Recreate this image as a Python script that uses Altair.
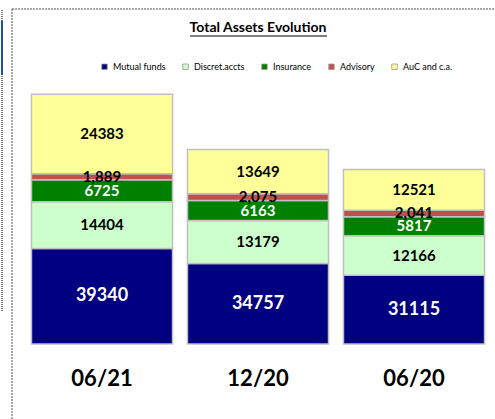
import altair as alt
import pandas as pd

periods = ["06/21", "12/20", "06/20"]
series = ["Mutual funds", "Discret.accts", "Insurance", "Advisory", "AuC and c.a."]
colors = ["#000080", "#CCFFCC", "#008000", "#C0504D", "#FFFF99"]
mutual_funds = [39340, 34757, 31115]
discret_accts = [14404, 13179, 12166]
insurance = [6725, 6163, 5817]
advisory = [1889, 2075, 2041]
auc = [24383, 13649, 12521]
title_text = "Total Assets Evolution"
y_min = 10000
y_max = 97000

rows = []
for si, (s, vals) in enumerate(zip(series, [mutual_funds, discret_accts, insurance, advisory, auc])):
    for p, v in zip(periods, vals):
        rows.append({"period": p, "series": s, "idx": si, "value": v})
df = pd.DataFrame(rows)

FONT = "Lato"

base = alt.Chart(df).transform_stack(
    stack="value", groupby=["period"], sort=[alt.SortField("idx", order="ascending")], as_=["v0", "v1"]
).transform_calculate(
    mid=f"(max(datum.v0, {y_min}) + datum.v1) / 2"
)

xenc = alt.X("period:N", sort=periods, title=None,
             scale=alt.Scale(paddingInner=0.096, paddingOuter=0.048),
             axis=alt.Axis(ticks=False, domain=False, labelFontSize=22, labelFontWeight="bold",
                           labelFont=FONT, labelColor="#000000", labelPadding=24, labelAngle=0))
yscale = alt.Scale(domain=[y_min, y_max], clamp=True, nice=False, zero=False)

bars = base.mark_bar(stroke="#BFBFBF", strokeWidth=1.5).encode(
    x=xenc,
    y=alt.Y("v0:Q", scale=yscale, axis=None),
    y2="v1:Q",
    color=alt.Color("series:N", scale=alt.Scale(domain=series, range=colors),
                    legend=alt.Legend(title=None, orient="none", direction="horizontal",
                                      legendX=76, legendY=1, symbolType="square", symbolSize=30,
                                      symbolStrokeColor="#999999", symbolStrokeWidth=0.8,
                                      labelFontSize=9, labelFont=FONT, labelColor="#000000",
                                      columnPadding=15, labelOffset=4)),
)

def text_layer(sel, color, size, fmt):
    return base.transform_filter(
        alt.FieldOneOfPredicate(field="series", oneOf=sel)
    ).mark_text(color=color, fontSize=size, fontWeight="bold", font=FONT, baseline="middle").encode(
        x=alt.X("period:N", sort=periods),
        y=alt.Y("mid:Q", scale=yscale),
        text=alt.Text("value:Q", format=fmt),
    )

t_mf = text_layer(["Mutual funds"], "white", 18, "d")
t_ins = text_layer(["Insurance"], "white", 15, "d")
t_adv = text_layer(["Advisory"], "black", 15, ",d")
t_oth = text_layer(["Discret.accts", "AuC and c.a."], "black", 15, "d")

deco = alt.Chart(pd.DataFrame({"a": [0]}))
title = deco.mark_text(text=title_text, fontSize=14, fontWeight="bold", font=FONT, color="#000000",
                       align="center", baseline="middle").encode(
    x=alt.value(234), y=alt.value(-33))
underline = deco.mark_rule(color="#000000", strokeWidth=1).encode(
    x=alt.value(166), x2=alt.value(303), y=alt.value(-25))
top_border = deco.mark_rule(color="#555555", strokeWidth=1, strokeDash=[2, 1]).encode(
    x=alt.value(-12), x2=alt.value(471), y=alt.value(-52))
left_border = deco.mark_rule(color="#555555", strokeWidth=1, strokeDash=[2, 1]).encode(
    x=alt.value(-12), y=alt.value(-52), y2=alt.value(358))
strip = deco.mark_rule(color="#777777", strokeWidth=2, strokeDash=[1, 1]).encode(
    x=alt.value(-22), y=alt.value(-51), y2=alt.value(250))
strip_blue = deco.mark_rule(color="#1F4E9A", strokeWidth=2).encode(
    x=alt.value(-22), y=alt.value(-40), y2=alt.value(14))

chart = alt.layer(bars, t_mf, t_ins, t_adv, t_oth, title, underline, top_border, left_border, strip, strip_blue).properties(
    width=468, height=283,
    padding={"left": 24, "top": 61, "right": 3, "bottom": 75},
    autosize=alt.AutoSizeParams(type="none"),
    background="white",
).configure_view(stroke=None).configure_axis(grid=False)

chart.save("out.html", embed_options={"renderer": "svg", "actions": False})
